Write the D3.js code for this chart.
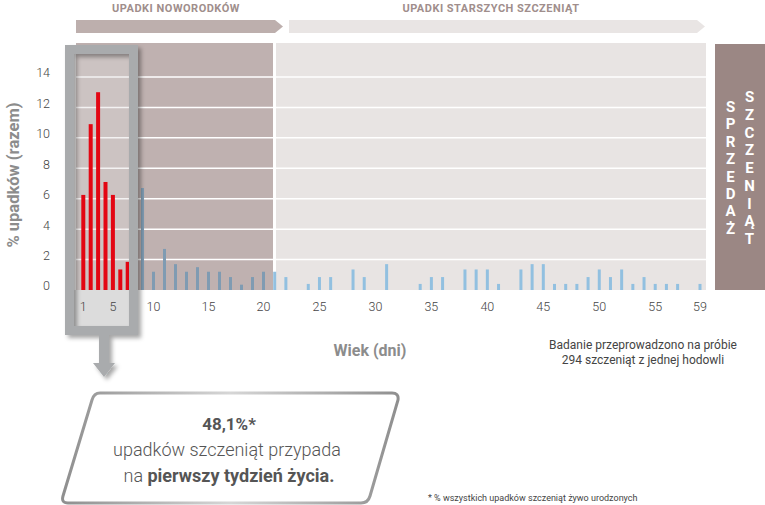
<!DOCTYPE html>
<html>
  <head>
    <meta charset="utf-8" />
    <title>Upadki szczeniąt</title>
    <script src="https://d3js.org/d3.v7.min.js"></script>
    <style>
      body {
        margin: 0;
        background: #fff;
        font-family: 'Roboto', 'Noto Sans', sans-serif;
      }
      .tick-label {
        font-size: 12.5px;
        font-weight: 300;
        fill: #444;
      }
    </style>
  </head>
  <body>
    <div id="chart"></div>
    <script>
      // dane: dzień życia i % upadków
      const firstWeekDays = [1, 2, 3, 4, 5, 6, 7];
      const firstWeekValues = [6.25, 10.9, 13.0, 7.1, 6.25, 1.35, 1.85];

      const laterDays = [
        9, 10, 11, 12, 13, 14, 15, 16, 17, 18, 19, 20, 21, 22, 24, 25, 26, 28,
        29, 31, 34, 35, 36, 38, 39, 40, 41, 43, 44, 45, 46, 47, 48, 49, 50, 51,
        52, 53, 54, 55, 56, 57, 59,
      ];
      const laterValues = [
        6.7, 1.2, 2.7, 1.7, 1.2, 1.5, 1.2, 1.2, 0.85, 0.35, 0.85, 1.2, 1.2, 0.85,
        0.4, 0.85, 0.85, 1.35, 0.85, 1.7, 0.4, 0.85, 0.85, 1.35, 1.35, 1.35, 0.4,
        1.35, 1.7, 1.7, 0.4, 0.4, 0.4, 0.85, 1.35, 0.85, 1.35, 0.4, 0.85, 0.4,
        0.4, 0.4, 0.4,
      ];

      const xTicks = [1, 5, 10, 15, 20, 25, 30, 35, 40, 45, 50, 55, 59];
      const yTicks = [0, 2, 4, 6, 8, 10, 12, 14];

      const width = 765;
      const height = 505;

      // skala dni: pierwszy tydzień ściśnięty
      const x = d3
        .scaleLinear()
        .domain([1, 7, 9, 20, 59])
        .range([83.3, 127.7, 142.5, 263.5, 700]);

      const y = d3.scaleLinear().domain([0, 14]).range([290, 77]);

      const plotTop = 43;
      const plotLeft = 76;
      const splitX = 274.5; // granica noworodki / starsze
      const plotRight = 706;

      const svg = d3
        .select('#chart')
        .append('svg')
        .attr('width', width)
        .attr('height', height);

      const defs = svg.append('defs');
      const shadow = defs
        .append('filter')
        .attr('id', 'shadow')
        .attr('x', '-20%')
        .attr('y', '-20%')
        .attr('width', '150%')
        .attr('height', '150%');
      shadow
        .append('feDropShadow')
        .attr('dx', 3)
        .attr('dy', 3)
        .attr('stdDeviation', 2)
        .attr('flood-color', '#000')
        .attr('flood-opacity', 0.35);

      const grad = defs
        .append('linearGradient')
        .attr('id', 'boxStroke')
        .attr('x1', '0%')
        .attr('x2', '100%');
      grad.append('stop').attr('offset', '0%').attr('stop-color', '#8f8f8f');
      grad.append('stop').attr('offset', '50%').attr('stop-color', '#d6d6d6');
      grad.append('stop').attr('offset', '100%').attr('stop-color', '#8f8f8f');

      // strzałki z tytułami okresów
      svg
        .append('polygon')
        .attr('points', '76,20 275,20 283,26.5 275,33 76,33')
        .attr('fill', '#bdafad');
      svg
        .append('polygon')
        .attr('points', '289,20 697,20 705,26.5 697,33 289,33')
        .attr('fill', '#e9e5e4');

      svg
        .append('text')
        .attr('x', 176)
        .attr('y', 12)
        .attr('text-anchor', 'middle')
        .attr('fill', '#a08e8c')
        .style('font-size', '11px')
        .style('font-weight', 'bold')
        .style('letter-spacing', '0.5px')
        .text('UPADKI NOWORODKÓW');
      svg
        .append('text')
        .attr('x', 491)
        .attr('y', 12)
        .attr('text-anchor', 'middle')
        .attr('fill', '#a08e8c')
        .style('font-size', '11px')
        .style('font-weight', 'bold')
        .style('letter-spacing', '0.5px')
        .text('UPADKI STARSZYCH SZCZENIĄT');

      // tło wykresu
      svg
        .append('rect')
        .attr('x', plotLeft)
        .attr('y', plotTop)
        .attr('width', splitX - 1.5 - plotLeft)
        .attr('height', y(0) - plotTop)
        .attr('fill', '#bfb1b0');
      svg
        .append('rect')
        .attr('x', splitX + 1.5)
        .attr('y', plotTop)
        .attr('width', plotRight - splitX - 1.5)
        .attr('height', y(0) - plotTop)
        .attr('fill', '#e8e4e3');

      // linie siatki
      svg
        .append('g')
        .selectAll('line')
        .data(yTicks.filter((d) => d > 0))
        .join('line')
        .attr('x1', plotLeft)
        .attr('x2', plotRight)
        .attr('y1', (d) => y(d))
        .attr('y2', (d) => y(d))
        .attr('stroke', '#fff')
        .attr('stroke-width', 1.5);

      // pole sprzedaży
      svg
        .append('rect')
        .attr('x', 715)
        .attr('y', 44)
        .attr('width', 50)
        .attr('height', 246)
        .attr('fill', '#9b8784');

      const sale = [
        { word: 'SPRZEDAŻ', cx: 730.5, start: 112, step: 17.4 },
        { word: 'SZCZENIĄT', cx: 749.5, start: 102, step: 17.75 },
      ];
      sale.forEach((s) => {
        svg
          .append('g')
          .selectAll('text')
          .data(Array.from(s.word))
          .join('text')
          .attr('x', s.cx)
          .attr('y', (d, i) => s.start + i * s.step)
          .attr('text-anchor', 'middle')
          .attr('fill', '#fff')
          .style('font-size', '15px')
          .style('font-weight', 'bold')
          .text((d) => d);
      });

      // wnętrze ramki pierwszego tygodnia
      svg
        .append('rect')
        .attr('x', 74)
        .attr('y', 54)
        .attr('width', 60)
        .attr('height', y(0) - 54)
        .attr('fill', '#e2dfdf')
        .attr('opacity', 0.4);
      svg
        .append('rect')
        .attr('x', 74)
        .attr('y', y(0))
        .attr('width', 60)
        .attr('height', 331 - y(0))
        .attr('fill', '#dcdcdc');

      // słupki
      svg
        .append('g')
        .selectAll('rect')
        .data(laterDays.map((d, i) => ({ day: d, value: laterValues[i] })))
        .join('rect')
        .attr('x', (d) => x(d.day) - 1.5)
        .attr('y', (d) => y(d.value))
        .attr('width', 3)
        .attr('height', (d) => y(0) - y(d.value))
        .attr('fill', (d) => (d.day <= 20 ? '#7f9bb2' : '#92c0e0'));

      svg
        .append('g')
        .selectAll('rect')
        .data(firstWeekDays.map((d, i) => ({ day: d, value: firstWeekValues[i] })))
        .join('rect')
        .attr('x', (d) => x(d.day) - 2)
        .attr('y', (d) => y(d.value))
        .attr('width', 4)
        .attr('height', (d) => y(0) - y(d.value))
        .attr('fill', '#e30613');

      // ramka + strzałka w dół
      const frame = svg.append('g').attr('filter', 'url(#shadow)');
      frame
        .append('rect')
        .attr('x', 69.5)
        .attr('y', 49.5)
        .attr('width', 64)
        .attr('height', 281)
        .attr('fill', 'none')
        .attr('stroke', '#a9abad')
        .attr('stroke-width', 9);
      frame
        .append('path')
        .attr('d', 'M99,335 L109,335 L109,363 L115,363 L104,377 L93,363 L99,363 Z')
        .attr('fill', '#a9abad');

      // osie
      svg
        .append('g')
        .selectAll('text')
        .data(yTicks)
        .join('text')
        .attr('class', 'tick-label')
        .attr('x', 50)
        .attr('y', (d) => y(d) - 4)
        .attr('dy', '0.35em')
        .attr('text-anchor', 'end')
        .text((d) => d);

      svg
        .append('g')
        .selectAll('text')
        .data(xTicks)
        .join('text')
        .attr('class', 'tick-label')
        .attr('x', (d) => x(d))
        .attr('y', 307)
        .attr('dy', '0.35em')
        .attr('text-anchor', 'middle')
        .text((d) => d);

      svg
        .append('text')
        .attr('transform', 'translate(19,175) rotate(-90)')
        .attr('text-anchor', 'middle')
        .attr('fill', '#8c8c8c')
        .style('font-size', '16.5px')
        .style('font-weight', 'bold')
        .text('% upadków (razem)');

      svg
        .append('text')
        .attr('x', 370)
        .attr('y', 356)
        .attr('text-anchor', 'middle')
        .attr('fill', '#8c8c8c')
        .style('font-size', '16px')
        .style('font-weight', 'bold')
        .text('Wiek (dni)');

      svg
        .append('text')
        .attr('x', 643)
        .attr('y', 349)
        .attr('text-anchor', 'middle')
        .attr('fill', '#444')
        .style('font-size', '12px')
        .text('Badanie przeprowadzono na próbie');
      svg
        .append('text')
        .attr('x', 643)
        .attr('y', 364)
        .attr('text-anchor', 'middle')
        .attr('fill', '#444')
        .style('font-size', '12px')
        .text('294 szczeniąt z jednej hodowli');

      // dymek z podsumowaniem
      svg
        .append('path')
        .attr(
          'd',
          'M100,393 L392,393 Q399,393 398,400 L370,496 Q368,503 361,503 L68,503 Q61,503 63,496 L92,400 Q94,393 100,393 Z',
        )
        .attr('fill', '#fff')
        .attr('stroke', 'url(#boxStroke)')
        .attr('stroke-width', 3);

      svg
        .append('text')
        .attr('x', 229)
        .attr('y', 430)
        .attr('text-anchor', 'middle')
        .attr('fill', '#555')
        .style('font-size', '17px')
        .style('font-weight', 'bold')
        .text('48,1%*');
      svg
        .append('text')
        .attr('x', 227)
        .attr('y', 456)
        .attr('text-anchor', 'middle')
        .attr('fill', '#555')
        .style('font-size', '18px')
        .style('font-weight', 300)
        .text('upadków szczeniąt przypada');
      const last = svg
        .append('text')
        .attr('x', 229)
        .attr('y', 482)
        .attr('text-anchor', 'middle')
        .attr('fill', '#555')
        .style('font-size', '18px')
        .style('font-weight', 300);
      last.append('tspan').text('na ');
      last.append('tspan').style('font-weight', 'bold').text('pierwszy tydzień życia.');

      svg
        .append('text')
        .attr('x', 428)
        .attr('y', 501)
        .attr('fill', '#444')
        .style('font-size', '9px')
        .text('* % wszystkich upadków szczeniąt żywo urodzonych');
    </script>
  </body>
</html>
